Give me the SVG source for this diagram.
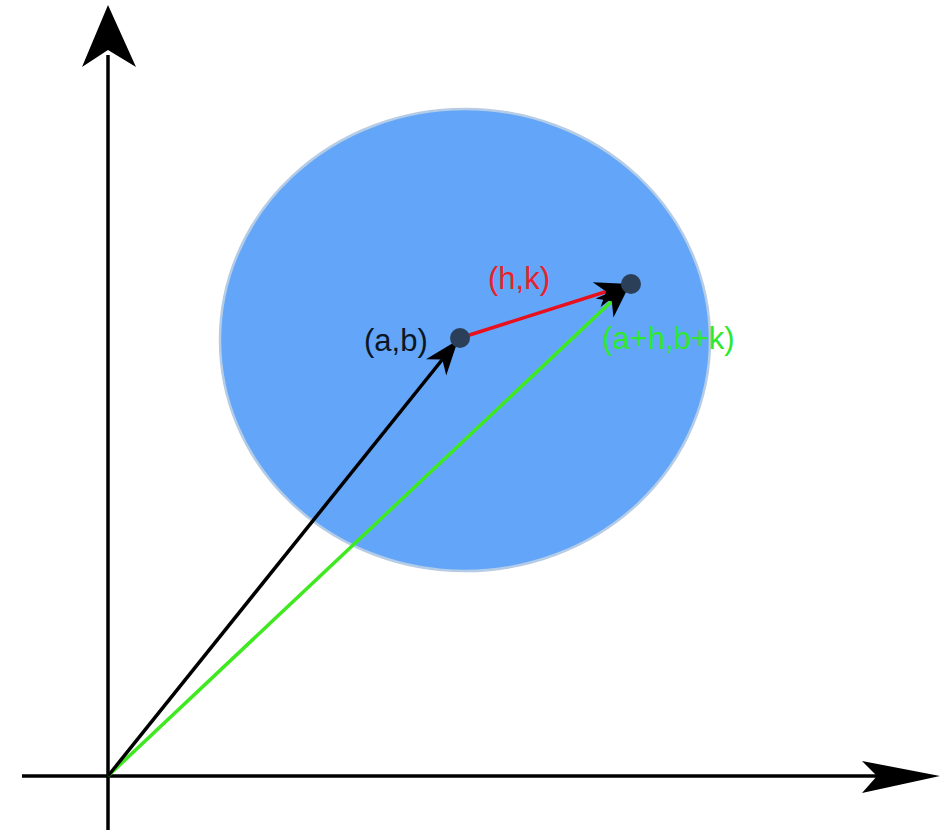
<svg xmlns="http://www.w3.org/2000/svg" width="943" height="830" viewBox="0 0 943 830">
<style>
.lbl{font-family:"Liberation Sans",Arial,sans-serif;font-size:31px}
.axis{stroke:#000;stroke-width:3.5;fill:none}
.dot{fill:#2b3f58}
</style>
<defs>
<marker id="vh" markerUnits="userSpaceOnUse" markerWidth="44" markerHeight="34" viewBox="-38 -17 44 34" refX="0" refY="0" orient="auto">
<path d="M0,0 L-35,-13 L-25,0 L-35,13 Z" fill="#000"/>
</marker>
</defs>
<rect width="943" height="830" fill="#fff"/>
<g id="region">
<ellipse cx="465" cy="340" rx="245" ry="231" fill="#63a6f9" stroke="#b5cce6" stroke-width="2.5"/>
</g>
<g id="axes">
<line class="axis" x1="108" y1="830" x2="108" y2="55"/>
<path d="M108,5 L136,67 L108,50 L82,67 Z" fill="#000"/>
<line class="axis" x1="22" y1="776" x2="880" y2="776"/>
<path d="M940,776 L862,761 L877,776 L862,793 Z" fill="#000"/>
</g>
<g id="connectors">
<line x1="108" y1="776" x2="630" y2="284" stroke="#3fe91f" stroke-width="3.5" marker-end="url(#vh)"/>
<line x1="460" y1="338" x2="630" y2="284" stroke="#e8101c" stroke-width="3.5" marker-end="url(#vh)"/>
<line x1="108" y1="776" x2="458" y2="340" stroke="#000" stroke-width="3.5" marker-end="url(#vh)"/>
</g>
<g id="node-ab">
<circle class="dot" cx="460" cy="338" r="10"/>
<text class="lbl" x="364" y="351" fill="#0d1626">(a,b)</text>
</g>
<g id="node-ahbk">
<circle class="dot" cx="631" cy="284" r="10"/>
<text class="lbl" x="602" y="349" fill="#2ee82e">(a+h,b+k)</text>
</g>
<g id="label-hk">
<text class="lbl" x="488" y="289" fill="#e8212b">(h,k)</text>
</g>
</svg>
